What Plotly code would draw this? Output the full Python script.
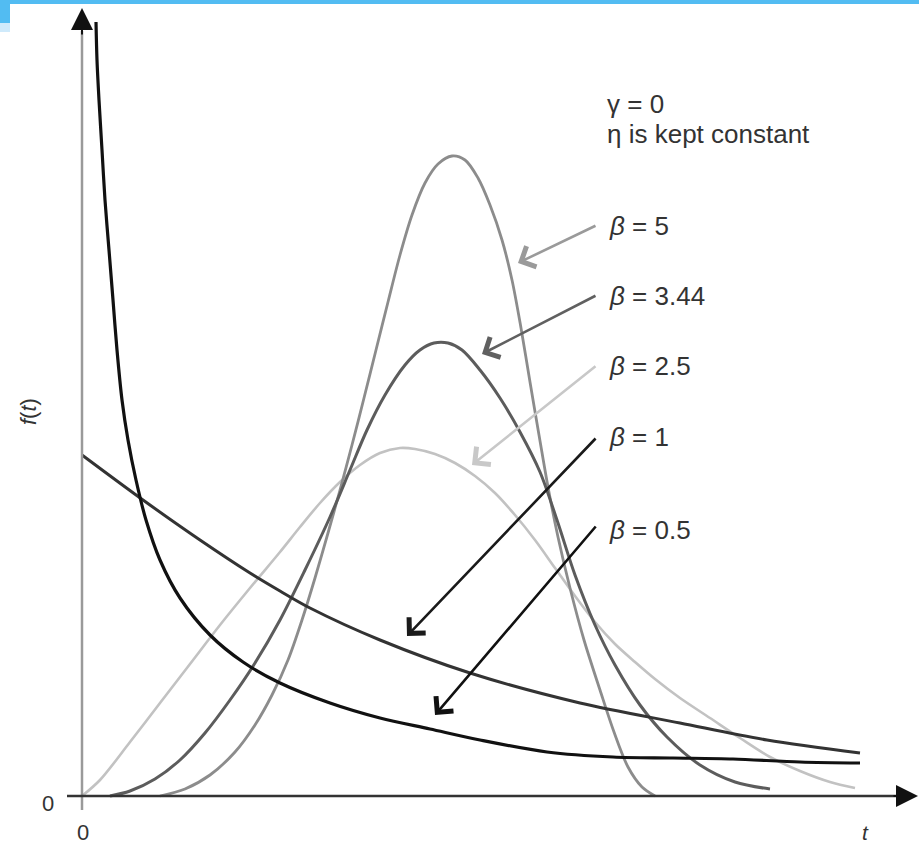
import plotly.graph_objects as go

# ---- data (t, f(t)) ----
t_b05 = [0.14, 0.15, 0.17, 0.20, 0.23, 0.27, 0.31, 0.35, 0.40, 0.46, 0.54, 0.64, 0.78, 0.98, 1.28, 1.61, 1.98, 2.48, 2.98, 3.48, 3.98, 4.65, 5.31, 5.91, 6.51, 7.18, 7.78]
f_b05 = [7.74, 7.36, 6.96, 6.46, 5.96, 5.46, 4.96, 4.46, 3.96, 3.56, 3.16, 2.76, 2.36, 1.98, 1.61, 1.34, 1.13, 0.93, 0.78, 0.67, 0.56, 0.44, 0.39, 0.38, 0.37, 0.34, 0.33]

t_b1 = [0.00, 0.61, 1.18, 1.68, 1.98, 2.28, 2.98, 3.88, 4.98, 5.98, 6.85, 7.78]
f_b1 = [3.41, 2.96, 2.56, 2.23, 2.05, 1.88, 1.56, 1.23, 0.93, 0.73, 0.56, 0.43]

t_b25 = [0.00, 0.18, 0.48, 0.78, 1.08, 1.38, 1.68, 1.98, 2.18, 2.38, 2.58, 2.78, 2.98, 3.18, 3.33, 3.53, 3.73, 3.93, 4.13, 4.33, 4.53, 4.73, 4.93, 5.13, 5.33, 5.53, 5.73, 5.98, 6.28, 6.58, 6.88, 7.18, 7.48, 7.73]
f_b25 = [0.00, 0.16, 0.54, 0.93, 1.32, 1.71, 2.08, 2.44, 2.69, 2.93, 3.14, 3.31, 3.43, 3.48, 3.47, 3.42, 3.33, 3.20, 3.03, 2.81, 2.56, 2.28, 2.00, 1.74, 1.52, 1.34, 1.17, 0.98, 0.78, 0.58, 0.39, 0.25, 0.14, 0.08]

t_b344 = [0.28, 0.48, 0.73, 0.98, 1.23, 1.48, 1.73, 1.98, 2.23, 2.48, 2.68, 2.85, 3.03, 3.23, 3.38, 3.52, 3.66, 3.80, 3.98, 4.18, 4.38, 4.58, 4.75, 4.93, 5.13, 5.33, 5.58, 5.85, 6.18, 6.53, 6.88]
f_b344 = [0.00, 0.05, 0.17, 0.36, 0.63, 0.96, 1.33, 1.76, 2.26, 2.79, 3.26, 3.66, 4.01, 4.31, 4.46, 4.53, 4.53, 4.46, 4.26, 3.98, 3.64, 3.24, 2.76, 2.21, 1.71, 1.31, 0.91, 0.59, 0.31, 0.14, 0.07]

t_b5 = [0.78, 1.03, 1.28, 1.53, 1.73, 1.90, 2.06, 2.20, 2.33, 2.46, 2.58, 2.70, 2.82, 2.94, 3.06, 3.18, 3.30, 3.43, 3.56, 3.70, 3.83, 3.96, 4.08, 4.20, 4.30, 4.39, 4.48, 4.57, 4.66, 4.76, 4.88, 5.02, 5.18, 5.32, 5.46, 5.60, 5.73]
f_b5 = [0.00, 0.07, 0.21, 0.44, 0.71, 1.01, 1.36, 1.76, 2.18, 2.63, 3.06, 3.51, 3.98, 4.46, 4.94, 5.41, 5.81, 6.13, 6.32, 6.40, 6.36, 6.18, 5.91, 5.56, 5.16, 4.68, 4.14, 3.61, 3.09, 2.59, 2.08, 1.56, 1.06, 0.64, 0.29, 0.09, 0.00]

labels = ["β = 5", "β = 3.44", "β = 2.5", "β = 1", "β = 0.5"]
label_t = [5.25, 5.25, 5.25, 5.25, 5.25]
label_f = [5.70, 5.00, 4.30, 3.59, 2.66]
arrow_start_t = [5.15, 5.15, 5.15, 5.15, 5.15]
arrow_start_f = [5.71, 5.01, 4.31, 3.59, 2.71]
arrow_tip_t = [4.36, 4.00, 3.90, 3.25, 3.53]
arrow_tip_f = [5.33, 4.42, 3.31, 1.60, 0.81]
arrow_colors = ["#9a9a9a", "#606060", "#c8c8c8", "#1a1a1a", "#111111"]

FONT = "Liberation Sans, Arial, Helvetica, sans-serif"

fig = go.Figure()

series = [
    (t_b25, f_b25, "#c2c2c2", 2.6),
    (t_b5, f_b5, "#8c8c8c", 2.8),
    (t_b344, f_b344, "#5c5c5c", 3.0),
    (t_b1, f_b1, "#333333", 3.0),
    (t_b05, f_b05, "#111111", 3.2),
]
for tx, fy, col, w in series:
    fig.add_trace(go.Scatter(x=tx, y=fy, mode="lines",
                             line=dict(color=col, width=w, shape="spline", smoothing=0.9),
                             showlegend=False, hoverinfo="skip"))

# axes lines
fig.add_shape(type="line", x0=0, x1=0, y0=-0.14, y1=7.65, xref="x", yref="y",
              line=dict(color="#9a9a9a", width=2.5))
fig.add_shape(type="line", x0=-0.15, x1=8.2, y0=0, y1=0, xref="x", yref="y",
              line=dict(color="#333333", width=2.5))

annotations = []
# axis arrowheads
annotations.append(dict(x=0, y=7.88, ax=0, ay=7.6, xref="x", yref="y", axref="x", ayref="y",
                        showarrow=True, arrowhead=2, arrowsize=2.2, arrowwidth=2,
                        arrowcolor="#111111", text=""))
annotations.append(dict(x=8.36, y=0, ax=8.1, ay=0, xref="x", yref="y", axref="x", ayref="y",
                        showarrow=True, arrowhead=2, arrowsize=2.2, arrowwidth=2,
                        arrowcolor="#111111", text=""))

for i in range(5):
    annotations.append(dict(x=arrow_tip_t[i], y=arrow_tip_f[i], ax=arrow_start_t[i], ay=arrow_start_f[i],
                            xref="x", yref="y", axref="x", ayref="y", showarrow=True,
                            arrowhead=4, arrowsize=1.7, arrowwidth=2.6, arrowcolor=arrow_colors[i], text=""))
    annotations.append(dict(x=label_t[i], y=label_f[i], xref="x", yref="y", showarrow=False,
                            text=labels[i].replace("β", "<i>β</i>"), xanchor="left", yanchor="middle",
                            font=dict(family=FONT, size=26, color="#333333")))

annotations.append(dict(x=5.23, y=6.92, xref="x", yref="y", showarrow=False, text="γ = 0",
                        xanchor="left", yanchor="middle",
                        font=dict(family=FONT, size=26, color="#333333")))
annotations.append(dict(x=5.23, y=6.62, xref="x", yref="y", showarrow=False, text="η is kept constant",
                        xanchor="left", yanchor="middle",
                        font=dict(family=FONT, size=26, color="#333333")))
# axis labels and ticks
annotations.append(dict(x=-0.34, y=-0.07, xref="x", yref="y", showarrow=False, text="0",
                        xanchor="center", yanchor="middle",
                        font=dict(family=FONT, size=22, color="#333333")))
annotations.append(dict(x=0.01, y=-0.36, xref="x", yref="y", showarrow=False, text="0",
                        xanchor="center", yanchor="middle",
                        font=dict(family=FONT, size=22, color="#333333")))
annotations.append(dict(x=7.83, y=-0.36, xref="x", yref="y", showarrow=False, text="<i>t</i>",
                        xanchor="center", yanchor="middle",
                        font=dict(family=FONT, size=21, color="#333333")))
annotations.append(dict(x=-0.54, y=3.84, xref="x", yref="y", showarrow=False, text="<i>f</i>(<i>t</i>)",
                        textangle=-90, xanchor="center", yanchor="middle",
                        font=dict(family=FONT, size=22, color="#333333")))

# decorative header band
shapes_extra = [
    dict(type="rect", xref="paper", yref="paper", x0=0, x1=1, y0=1 - 4 / 846, y1=1,
         fillcolor="#52BCF2", line=dict(width=0), layer="above"),
    dict(type="rect", xref="paper", yref="paper", x0=0, x1=10 / 919, y0=1 - 23 / 846, y1=1,
         fillcolor="#52BCF2", line=dict(width=0), layer="above"),
    dict(type="rect", xref="paper", yref="paper", x0=0, x1=10 / 919, y0=1 - 32 / 846, y1=1 - 23 / 846,
         fillcolor="#cfeafb", line=dict(width=0), layer="above"),
]
for s in shapes_extra:
    fig.add_shape(**s)

fig.update_layout(
    width=919, height=846,
    margin=dict(l=0, r=0, t=0, b=0),
    paper_bgcolor="white", plot_bgcolor="white",
    xaxis=dict(range=[-0.82, 8.37], visible=False, fixedrange=True),
    yaxis=dict(range=[-0.50, 7.96], visible=False, fixedrange=True),
    annotations=annotations,
    showlegend=False,
)

fig.write_html("out.html", config={"displayModeBar": False},
               post_script="document.body.style.margin='0';document.body.style.padding='0';"
                           "document.body.style.overflow='hidden';")
